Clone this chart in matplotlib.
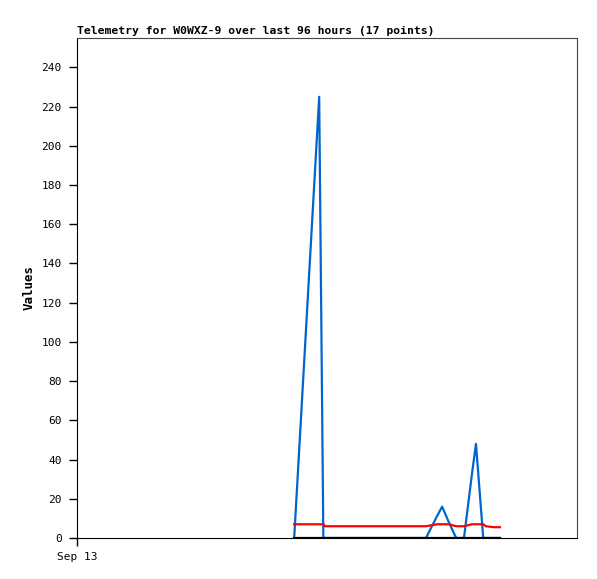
import matplotlib
matplotlib.use("Agg")
import matplotlib.pyplot as plt

# hours since Sep 13 00:00
hours = [41.7, 46.5, 47.3, 47.6, 57.0, 67.0, 69.1, 70.1, 71.4, 72.8,
         74.3, 75.8, 76.6, 78.0, 78.5, 80.1, 81.2]
blue_vals = [0, 225, 0, 0, 0, 0, 11, 16, 8, 0, 0, 32, 48, 0, 0, 0, 0]
red_vals = [7, 7, 7, 6, 6, 6, 7, 7, 7, 6, 6, 7, 7, 7, 6, 5.5, 5.5]
black_vals = [0] * 17

TITLE = "Telemetry for W0WXZ-9 over last 96 hours (17 points)"
Y_TICKS = list(range(0, 241, 20))

plt.rcParams.update({
    "font.family": "DejaVu Sans Mono",
    "font.size": 8,
})

fig = plt.figure(figsize=(5.97, 5.79), dpi=100)
ax = fig.add_axes([77 / 597, 41 / 579, 500 / 597, 500 / 579])

ax.plot(hours, blue_vals, color="#0066cc", lw=1.6, zorder=2)
ax.plot(hours, red_vals, color="#ff0000", lw=1.6, zorder=3)
ax.plot(hours, black_vals, color="#000000", lw=1.6, zorder=4)

ax.set_xlim(0, 96)
ax.set_ylim(0, 255)
ax.set_yticks(Y_TICKS)
ax.set_xticks([0])
ax.set_xticklabels(["Sep 13"])
ax.tick_params(axis="y", direction="out", length=6, width=1, pad=5, colors="#000000")
ax.tick_params(axis="x", direction="out", length=6, width=1, pad=4, colors="#000000")

for side in ("top", "right"):
    ax.spines[side].set_color("#444444")
for side in ("left", "bottom"):
    ax.spines[side].set_color("#000000")

ax.set_ylabel("Values", fontweight="bold", fontsize=9, labelpad=4)
fig.text(77 / 597, 1 - 31 / 579, TITLE, fontweight="bold", fontsize=8.2,
         ha="left", va="center")

fig.savefig("out.png", dpi=100)
